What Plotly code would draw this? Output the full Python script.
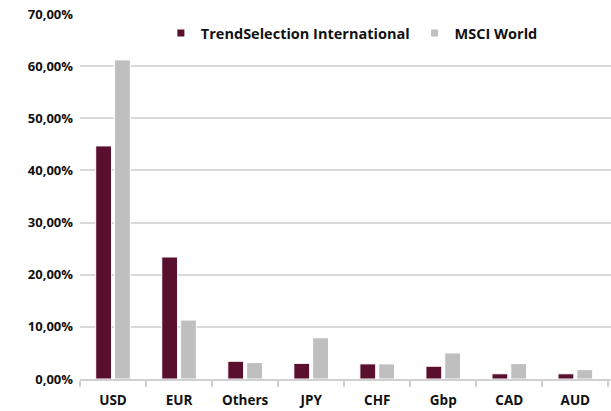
import plotly.graph_objects as go

categories = ["USD", "EUR", "Others", "JPY", "CHF", "Gbp", "CAD", "AUD"]
trendselection = [44.7, 23.4, 3.4, 3.0, 2.9, 2.45, 1.0, 1.0]
msci_world = [61.2, 11.3, 3.15, 7.9, 2.9, 5.0, 2.95, 1.8]
series_names = ["TrendSelection International", "MSCI World"]
y_ticks = [0, 10, 20, 30, 40, 50, 60, 70]
y_tick_labels = ["0,00%", "10,00%", "20,00%", "30,00%", "40,00%", "50,00%", "60,00%", "70,00%"]

c_ts = "#5A0F2E"
c_msci = "#BFBFBF"
font_family = "'Open Sans', Lato, sans-serif"

fig = go.Figure()
for name, vals, col in [(series_names[0], trendselection, c_ts), (series_names[1], msci_world, c_msci)]:
    fig.add_trace(go.Bar(
        x=categories, y=vals, name=name, showlegend=False,
        marker=dict(color=col, line=dict(color="white", width=1)),
    ))
    fig.add_trace(go.Scatter(
        x=[None], y=[None], mode="markers", name=name, showlegend=True,
        marker=dict(symbol="square", size=7, color=col),
    ))

fig.update_layout(
    width=611, height=411,
    margin=dict(l=80, r=0, t=14, b=32),
    paper_bgcolor="white", plot_bgcolor="white",
    barmode="group", bargap=0.43, bargroupgap=0.16,
    font=dict(family=font_family, size=14, color="#111111"),
    legend=dict(
        orientation="h", x=0.512, xanchor="center", y=0.948, yanchor="middle",
        font=dict(family=font_family, size=14.5, color="#111111", weight="bold"),
        itemwidth=30, bgcolor="rgba(0,0,0,0)", traceorder="normal",
    ),
    xaxis=dict(
        type="category", showgrid=False, showline=True, linecolor="#D0D0D0", linewidth=1.5,
        ticks="outside", tickson="boundaries", ticklen=6, tickcolor="#D0D0D0", tickwidth=1.5,
        tickfont=dict(family=font_family, size=13.5, color="#111111", weight="bold"),
        range=[-0.5, 7.5 + 0.04], automargin=False, ticklabelstandoff=8,
    ),
    yaxis=dict(
        range=[0, 70], tickvals=y_ticks, ticktext=y_tick_labels,
        showgrid=True, gridcolor="#D9D9D9", gridwidth=1.5, zeroline=False,
        showline=False, ticks="", ticklabelstandoff=6, automargin=False,
        tickfont=dict(family=font_family, size=13, color="#111111", weight="bold"),
    ),
)

fig.write_html(
    "out.html",
    config={"displayModeBar": False},
    post_script="document.body.style.margin='0';document.body.style.overflow='hidden';",
)
